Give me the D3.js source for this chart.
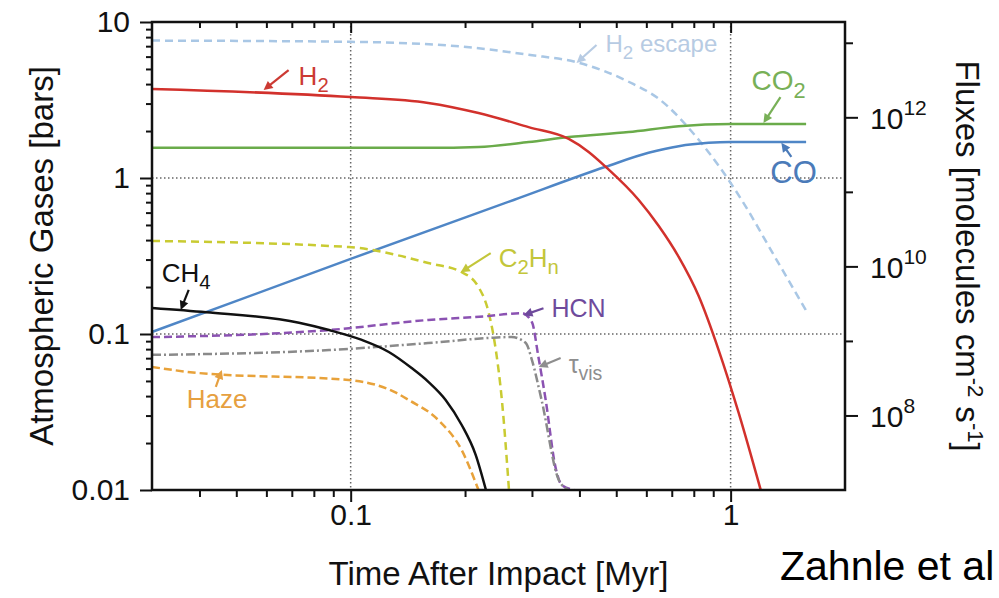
<!DOCTYPE html>
<html>
<head>
<meta charset="utf-8">
<script src="https://cdn.jsdelivr.net/npm/d3@7"></script>
<style>
  body { margin: 0; background: #fff; }
  svg { display: block; }
  text { font-family: "Liberation Sans", Arial, Helvetica, sans-serif; }
</style>
</head>
<body>
<svg id="chart" width="999" height="598"></svg>
<script>
// Axes (Myr, bars, molecules cm-2 s-1)
const timeDomain = [0.03, 2]
const gasDomain = [0.01, 10]
const fluxDomain = [1e7, 1.9e13]

const timeTicks = [0.1, 1]
const timeTickLabels = ['0.1', '1']
const timeMinorTicks = [0.04, 0.05, 0.06, 0.07, 0.08, 0.09, 0.2, 0.3, 0.4, 0.5, 0.6, 0.7, 0.8, 0.9]
const gasTicks = [0.01, 0.1, 1, 10]
const gasTickLabels = ['0.01', '0.1', '1', '10']
const gasMinorTicks = [0.02, 0.03, 0.04, 0.05, 0.06, 0.07, 0.08, 0.09,
                       0.2, 0.3, 0.4, 0.5, 0.6, 0.7, 0.8, 0.9,
                       2, 3, 4, 5, 6, 7, 8, 9]
const fluxTicks = [1e8, 1e10, 1e12]
const fluxTickExponents = ['8', '10', '12']
const fluxMinorTicks = [1e9, 1e11, 1e13]
const gridTimes = [0.1, 1]
const gridGases = [0.1, 1]

// Series
const h2Time = [0.03, 0.1, 0.16, 0.217, 0.294, 0.375, 0.423, 0.469, 0.573, 0.647, 0.73, 0.824, 0.93, 1.05, 1.2]
const h2Bars = [3.72, 3.30, 3.03, 2.61, 2.12, 1.78, 1.47, 1.18, 0.723, 0.492, 0.312, 0.175, 0.0789, 0.0312, 0.01]

const escTime = [0.03, 0.1, 0.196, 0.294, 0.398, 0.539, 0.647, 0.824, 1.069, 1.298, 1.576]
const escFlux = [1.07e13, 1.03e13, 8.9e12, 6.9e12, 5.4e12, 3.0e12, 1.77e12, 5.0e11, 7.8e10, 1.43e10, 2.6e9]

const co2Time = [0.03, 0.1, 0.16, 0.217, 0.294, 0.375, 0.539, 0.73, 1.0, 1.58]
const co2Bars = [1.56, 1.56, 1.56, 1.58, 1.70, 1.83, 1.97, 2.15, 2.22, 2.22]

const coTime = [0.03, 0.1, 0.2685, 0.469, 0.608, 0.73, 0.875, 1.0, 1.58]
const coBars = [0.103, 0.303, 0.723, 1.18, 1.45, 1.60, 1.68, 1.70, 1.70]

const c2hnTime = [0.03, 0.0988, 0.132, 0.16, 0.196, 0.217, 0.231, 0.241, 0.25, 0.261]
const c2hnBars = [0.395, 0.361, 0.321, 0.285, 0.249, 0.200, 0.136, 0.079, 0.0378, 0.01]

const hcnTime = [0.03, 0.0877, 0.16, 0.227, 0.282, 0.30, 0.312, 0.326, 0.346, 0.359, 0.387]
const hcnBars = [0.0955, 0.106, 0.123, 0.130, 0.136, 0.119, 0.0712, 0.0378, 0.014, 0.0108, 0.01]

const tauTime = [0.03, 0.0877, 0.16, 0.231, 0.265, 0.289, 0.30, 0.318, 0.353, 0.375]
const tauVals = [0.0735, 0.0789, 0.0875, 0.0943, 0.0957, 0.0875, 0.068, 0.0378, 0.0116, 0.01]

const hazeTime = [0.03, 0.0398, 0.0988, 0.132, 0.142, 0.17, 0.196, 0.217]
const hazeVals = [0.0615, 0.0562, 0.0507, 0.0419, 0.0378, 0.0281, 0.018, 0.01]

const ch4Time = [0.03, 0.0417, 0.0731, 0.0877, 0.107, 0.126, 0.1447, 0.1604, 0.1778, 0.196, 0.2133, 0.227]
const ch4Bars = [0.147, 0.138, 0.118, 0.106, 0.0916, 0.0767, 0.0605, 0.0492, 0.0378, 0.0261, 0.0168, 0.01]

// Geometry
const frame = { left: 152, right: 845, top: 22, bottom: 490 }
const ink = '#111'

const svg = d3.select('#chart')

// Scales //
const x = d3.scaleLog().domain(timeDomain).range([frame.left, frame.right])
const y = d3.scaleLog().domain(gasDomain).range([frame.bottom, frame.top])
const yFlux = d3.scaleLog().domain(fluxDomain).range([frame.bottom, frame.top])

svg.append('clipPath').attr('id', 'plot-clip')
  .append('rect')
    .attr('x', frame.left).attr('y', frame.top)
    .attr('width', frame.right - frame.left).attr('height', frame.bottom - frame.top)

// Dotted grid
const grid = svg.append('g')
  .attr('stroke', '#666').attr('stroke-width', 1.5).attr('stroke-dasharray', '1.5,2.5')
grid.selectAll('.vg').data(gridTimes).join('line')
  .attr('x1', d => x(d)).attr('x2', d => x(d))
  .attr('y1', frame.top).attr('y2', frame.bottom)
grid.selectAll('.hg').data(gridGases).join('line')
  .attr('y1', d => y(d)).attr('y2', d => y(d))
  .attr('x1', frame.left).attr('x2', frame.right)

// Curves //
const series = [
  { time: escTime, vals: escFlux, scale: yFlux, color: '#a9c7e5', dash: '8,5' },
  { time: co2Time, vals: co2Bars, scale: y, color: '#6aab4a', dash: null },
  { time: coTime, vals: coBars, scale: y, color: '#4f86c6', dash: null },
  { time: h2Time, vals: h2Bars, scale: y, color: '#d2312c', dash: null },
  { time: c2hnTime, vals: c2hnBars, scale: y, color: '#c9cb32', dash: '8,5' },
  { time: hcnTime, vals: hcnBars, scale: y, color: '#8b52b2', dash: '8,4' },
  { time: tauTime, vals: tauVals, scale: y, color: '#8a8a8a', dash: '9,3,2,3' },
  { time: hazeTime, vals: hazeVals, scale: y, color: '#e8a23a', dash: '8,4' },
  { time: ch4Time, vals: ch4Bars, scale: y, color: ink, dash: null },
]

const curves = svg.append('g').attr('clip-path', 'url(#plot-clip)').attr('fill', 'none')
series.forEach(s => {
  const line = d3.line()
    .x((d, i) => x(s.time[i]))
    .y(d => s.scale(d))
    .curve(d3.curveMonotoneX)
  curves.append('path')
    .attr('d', line(s.vals))
    .attr('stroke', s.color)
    .attr('stroke-width', 2.5)
    .attr('stroke-dasharray', s.dash)
})

// Axes //
const styleAxis = g => g
  .attr('font-size', 30)
  .attr('font-family', '"Liberation Sans", Arial, sans-serif')
  .call(s => s.select('.domain').remove())
  .call(s => s.selectAll('.tick line').attr('stroke', ink).attr('stroke-width', 2))
  .call(s => s.selectAll('.tick text').attr('fill', ink))

const atBottom = `translate(0,${frame.bottom})`
svg.append('g').attr('transform', atBottom)
  .call(d3.axisBottom(x).tickValues(timeTicks).tickSize(12).tickPadding(2)
    .tickFormat((d, i) => timeTickLabels[i]))
  .call(styleAxis)
svg.append('g').attr('transform', atBottom)
  .call(d3.axisBottom(x).tickValues(timeMinorTicks).tickSize(7).tickFormat(''))
  .call(styleAxis)

const atTop = `translate(0,${frame.top})`
svg.append('g').attr('transform', atTop)
  .call(d3.axisTop(x).tickValues(timeTicks).tickSize(-11).tickFormat(''))
  .call(styleAxis)
svg.append('g').attr('transform', atTop)
  .call(d3.axisTop(x).tickValues(timeMinorTicks).tickSize(-6).tickFormat(''))
  .call(styleAxis)

const atLeft = `translate(${frame.left},0)`
svg.append('g').attr('transform', atLeft)
  .call(d3.axisLeft(y).tickValues(gasTicks).tickSize(12).tickPadding(10)
    .tickFormat((d, i) => gasTickLabels[i]))
  .call(styleAxis)
svg.append('g').attr('transform', atLeft)
  .call(d3.axisLeft(y).tickValues(gasMinorTicks).tickSize(6).tickFormat(''))
  .call(styleAxis)

const atRight = `translate(${frame.right},0)`
svg.append('g').attr('transform', atRight)
  .call(d3.axisRight(yFlux).tickValues(fluxTicks).tickSize(13).tickPadding(12).tickFormat(''))
  .call(styleAxis)
  .call(g => g.selectAll('.tick text').each(function (d, i) {
    const t = d3.select(this).text(null).attr('dy', '0.36em')
    t.append('tspan').text('10')
    t.append('tspan').attr('dy', -14).attr('font-size', 21).text(fluxTickExponents[i])
  }))
svg.append('g').attr('transform', atRight)
  .call(d3.axisRight(yFlux).tickValues(fluxMinorTicks).tickSize(8).tickFormat(''))
  .call(styleAxis)

// Frame
svg.append('rect')
  .attr('x', frame.left).attr('y', frame.top)
  .attr('width', frame.right - frame.left).attr('height', frame.bottom - frame.top)
  .attr('fill', 'none').attr('stroke', ink).attr('stroke-width', 2.5)

// Axis titles
svg.append('text')
  .attr('transform', `translate(53,${(frame.top + frame.bottom) / 2}) rotate(-90)`)
  .attr('text-anchor', 'middle').attr('font-size', 33).attr('fill', ink)
  .text('Atmospheric Gases [bars]')

svg.append('text')
  .attr('x', (frame.left + frame.right) / 2).attr('y', 585)
  .attr('text-anchor', 'middle').attr('font-size', 33).attr('fill', ink)
  .text('Time After Impact [Myr]')

const fluxTitle = svg.append('text')
  .attr('transform', `translate(956,${(frame.top + frame.bottom) / 2}) rotate(90)`)
  .attr('text-anchor', 'middle').attr('font-size', 33).attr('fill', ink)
fluxTitle.append('tspan').text('Fluxes [molecules cm')
fluxTitle.append('tspan').attr('dy', -12).attr('font-size', 22).text('-2')
fluxTitle.append('tspan').attr('dy', 12).text(' s')
fluxTitle.append('tspan').attr('dy', -12).attr('font-size', 22).text('-1')
fluxTitle.append('tspan').attr('dy', 12).text(']')

// Annotations: arrow tip in data units, tail and text as pixel offsets
const notes = [
  { parts: [['H'], ['2', 1]], at: [0.059, 3.66], tail: [25, -20], text: [35, -5], size: 26, color: '#cc3a33' },
  { parts: [['H'], ['2', 1], [' escape']], at: [0.393, 5.46], tail: [20, -18], text: [29, -11], size: 24, color: '#b7cbe3' },
  { parts: [['CO'], ['2', 1]], at: [1.22, 2.25], tail: [17, -26], text: [-12, -33], size: 28, color: '#78b057' },
  { parts: [['CO']], at: [1.36, 1.68], tail: [10, 14], text: [-11, 40], size: 31, color: '#4b7bb9' },
  { parts: [['C'], ['2', 1], ['H'], ['n', 1]], at: [0.1948, 0.249], tail: [30, -19], text: [38, -5], size: 26, color: '#c3c63a' },
  { parts: [['HCN']], at: [0.285, 0.132], tail: [20, -7], text: [28, 2], size: 25, color: '#6e4a9c' },
  { parts: [['τ'], ['vis', 1]], at: [0.3124, 0.0614], tail: [22, -9], text: [30, 6], size: 25, color: '#8e8e8e' },
  { parts: [['CH'], ['4', 1]], at: [0.0357, 0.1426], tail: [8, -20], text: [-19, -28], size: 26, color: ink },
  { parts: [['Haze']], at: [0.0458, 0.0588], tail: [-6, 17], text: [-35, 38], size: 26, color: '#e6a040' },
]

const noteLayer = svg.append('g')
notes.forEach(n => {
  const tx = x(n.at[0]), ty = y(n.at[1])
  const sx = tx + n.tail[0], sy = ty + n.tail[1]
  const ang = Math.atan2(ty - sy, tx - sx)
  const c = Math.cos(ang), s = Math.sin(ang)
  const head = 9, half = 4.5
  noteLayer.append('line')
    .attr('x1', sx).attr('y1', sy)
    .attr('x2', tx - c * head * 0.7).attr('y2', ty - s * head * 0.7)
    .attr('stroke', n.color).attr('stroke-width', 2.2)
  noteLayer.append('path')
    .attr('d', `M${tx},${ty}L${tx - head * c - half * s},${ty - head * s + half * c}` +
               `L${tx - head * c + half * s},${ty - head * s - half * c}Z`)
    .attr('fill', n.color)

  const label = noteLayer.append('text')
    .attr('x', tx + n.text[0]).attr('y', ty + n.text[1])
    .attr('font-size', n.size).attr('fill', n.color)
  const drop = n.size * 0.28
  let low = false
  n.parts.forEach(([str, sub]) => {
    const span = label.append('tspan').text(str)
    if (sub && !low) { span.attr('dy', drop).attr('font-size', n.size * 0.78); low = true }
    else if (!sub && low) { span.attr('dy', -drop); low = false }
    else if (sub) span.attr('font-size', n.size * 0.78)
  })
})

// Citation
svg.append('text')
  .attr('x', 780).attr('y', 580)
  .attr('font-family', '"Open Sans", "Noto Sans", sans-serif')
  .attr('font-size', 41).attr('fill', '#000')
  .text('Zahnle et al')
</script>
</body>
</html>
